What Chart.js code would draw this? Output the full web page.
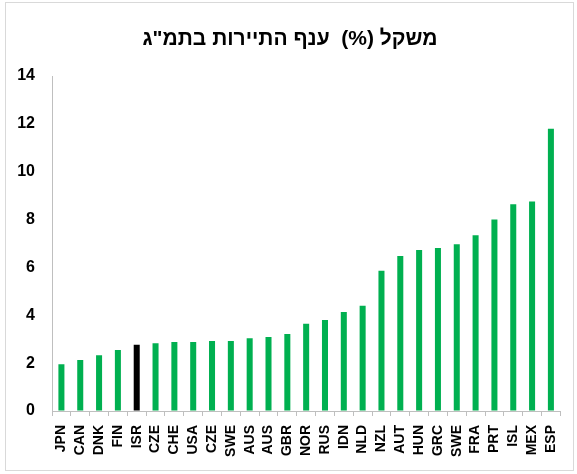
<!DOCTYPE html>
<html>
<head>
<meta charset="utf-8">
<script src="https://cdn.jsdelivr.net/npm/chart.js@4"></script>
<style>
  html, body { margin: 0; padding: 0; background: #fff; }
</style>
</head>
<body>
<canvas id="chart" width="577" height="474"></canvas>
<script>
// country codes, left to right
const countries = ['JPN', 'CAN', 'DNK', 'FIN', 'ISR', 'CZE', 'CHE', 'USA', 'CZE', 'SWE', 'AUS', 'AUS', 'GBR',
	'NOR', 'RUS', 'IDN', 'NLD', 'NZL', 'AUT', 'HUN', 'GRC', 'SWE', 'FRA', 'PRT', 'ISL', 'MEX', 'ESP'];
// tourism share of GDP (%)
const tourismShare = [1.95, 2.13, 2.33, 2.55, 2.77, 2.83, 2.88, 2.88, 2.93, 2.93, 3.04, 3.09, 3.22,
	3.65, 3.80, 4.14, 4.40, 5.86, 6.48, 6.73, 6.81, 6.97, 7.34, 8.00, 8.64, 8.76, 11.8];
const highlight = 'ISR';
const yTicks = [0, 2, 4, 6, 8, 10, 12, 14];
const title = 'משקל (%)  ענף התיירות בתמ"ג';

const barColors = countries.map(c => c === highlight ? '#000000' : '#00B050');

// white background, light frame and a title centred on the whole frame
const frame = {
	id: 'frame',
	beforeDraw(chart) {
		const ctx = chart.ctx;
		ctx.save();
		ctx.fillStyle = '#fff';
		ctx.fillRect(0, 0, chart.width, chart.height);
		ctx.strokeStyle = '#d9d9d9';
		ctx.lineWidth = 1;
		ctx.strokeRect(5.5, 2.5, 568, 468);
		ctx.restore();
	},
	afterDraw(chart) {
		const ctx = chart.ctx;
		ctx.save();
		ctx.fillStyle = '#000';
		ctx.font = 'bold 21px "Liberation Sans"';
		ctx.textAlign = 'center';
		ctx.textBaseline = 'middle';
		ctx.fillText(title, 290, 39);
		ctx.restore();
	}
};

new Chart(document.getElementById('chart'), {
	type: 'bar',
	plugins: [frame],
	data: {
		labels: countries,
		datasets: [{
			data: tourismShare,
			backgroundColor: barColors,
			barPercentage: 1,
			categoryPercentage: 0.32,
		}]
	},
	options: {
		responsive: false,
		animation: false,
		layout: { padding: { left: 0, right: 16, top: 76, bottom: 0 } },
		plugins: {
			legend: { display: false },
			tooltip: { enabled: false },
			title: { display: false }
		},
		scales: {
			x: {
				grid: { drawOnChartArea: false, drawTicks: true, tickLength: 5, color: '#bfbfbf' },
				border: { color: '#bfbfbf' },
				ticks: {
					autoSkip: false,
					minRotation: 90,
					maxRotation: 90,
					padding: 9,
					color: '#000',
					font: { family: 'Liberation Sans', weight: 'bold', size: 14 }
				},
				afterFit(axis) { axis.height = 63; }
			},
			y: {
				min: 0,
				max: 14,
				afterBuildTicks(axis) { axis.ticks = yTicks.map(v => ({ value: v })); },
				grid: { drawOnChartArea: false, drawTicks: false },
				border: { color: '#bfbfbf' },
				ticks: {
					padding: 17,
					color: '#000',
					font: { family: 'Liberation Sans', weight: 'bold', size: 16 }
				},
				afterFit(axis) { axis.width = 52; }
			}
		}
	}
});
</script>
</body>
</html>
